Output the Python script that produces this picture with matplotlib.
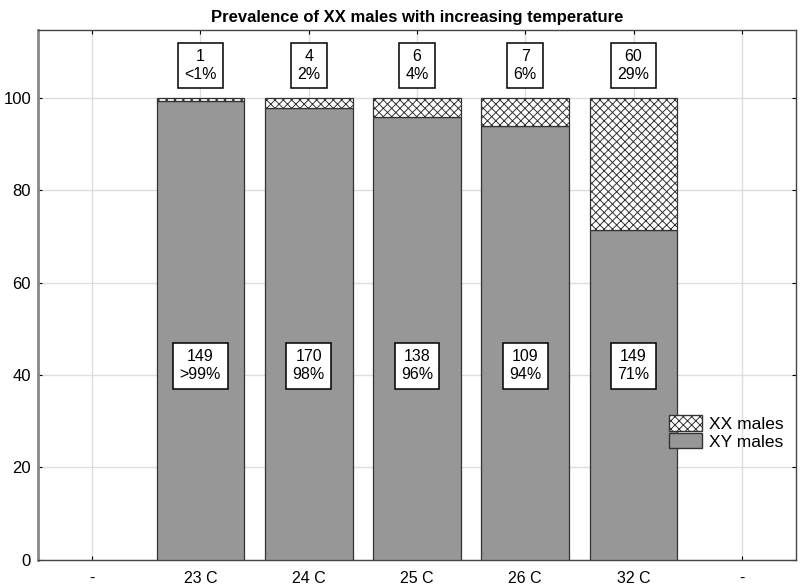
import numpy as np
import matplotlib
matplotlib.use("Agg")
import matplotlib.pyplot as plt
from matplotlib.patches import Patch

plt.rcParams["font.family"] = ["Liberation Sans", "DejaVu Sans"]
plt.rcParams["hatch.linewidth"] = 0.7

# Data
categories = ["-", "23 C", "24 C", "25 C", "26 C", "32 C", "-"]
groups = ["23 C", "24 C", "25 C", "26 C", "32 C"]
xy_counts = [149, 170, 138, 109, 149]
xx_counts = [1, 4, 6, 7, 60]
xy_labels = [">99%", "98%", "96%", "94%", "71%"]
xx_labels = ["<1%", "2%", "4%", "6%", "29%"]

xy = np.array(xy_counts, dtype=float)
xx = np.array(xx_counts, dtype=float)
xy_pct = xy / (xy + xx) * 100
xx_pct = 100 - xy_pct

fig = plt.figure(figsize=(8, 5.85), dpi=100)
ax = fig.add_axes([0.0475, 0.043, 0.9475, 0.906])

pos = np.arange(1, len(groups) + 1)
bar_color = "#979797"
edge = "#333333"
ax.bar(pos, xy_pct, width=0.81, color=bar_color, edgecolor=edge, linewidth=0.9, zorder=3)
ax.bar(pos, xx_pct, bottom=xy_pct, width=0.81, color="white", edgecolor=edge,
       hatch="xxxx", linewidth=0.9, zorder=3)

box = dict(boxstyle="square,pad=0.4", facecolor="white", edgecolor="black", linewidth=1.1)
for p, n, lab in zip(pos, xy_counts, xy_labels):
    ax.text(p, 42, f"{n}\n{lab}", ha="center", va="center", fontsize=11.5,
            bbox=box, zorder=5, linespacing=1.25)
for p, n, lab in zip(pos, xx_counts, xx_labels):
    ax.text(p, 107, f"{n}\n{lab}", ha="center", va="center", fontsize=11.5,
            bbox=box, zorder=5, linespacing=1.25)

ax.set_xlim(-0.5, len(categories) - 0.5)
ax.set_ylim(0, 114.7)
ax.set_xticks(range(len(categories)))
ax.set_xticklabels(categories, fontsize=11.5)
ax.set_yticks([0, 20, 40, 60, 80, 100])
ax.tick_params(axis="y", labelsize=12, direction="in", length=3, right=True, pad=5)
ax.tick_params(axis="x", direction="in", length=3, top=True, pad=8)
ax.grid(True, color="#dddddd", linewidth=1.0, zorder=0)
for s in ax.spines.values():
    s.set_color("#444444")
    s.set_linewidth(1.0)
ax.spines["left"].set_color("#888888")
ax.spines["left"].set_linewidth(2.0)

ax.set_title("Prevalence of XX males with increasing temperature", fontsize=12,
             fontweight="bold", pad=6)

handles = [Patch(facecolor="white", edgecolor=edge, hatch="xxxx", label="XX males"),
           Patch(facecolor=bar_color, edgecolor=edge, label="XY males")]
ax.legend(handles=handles, loc="lower right", bbox_to_anchor=(1.0, 0.185), frameon=False,
          fontsize=12.5, handlelength=1.9, handleheight=1.0, handletextpad=0.4,
          labelspacing=0.05, borderaxespad=0.3)

fig.savefig("out.png", dpi=100)
